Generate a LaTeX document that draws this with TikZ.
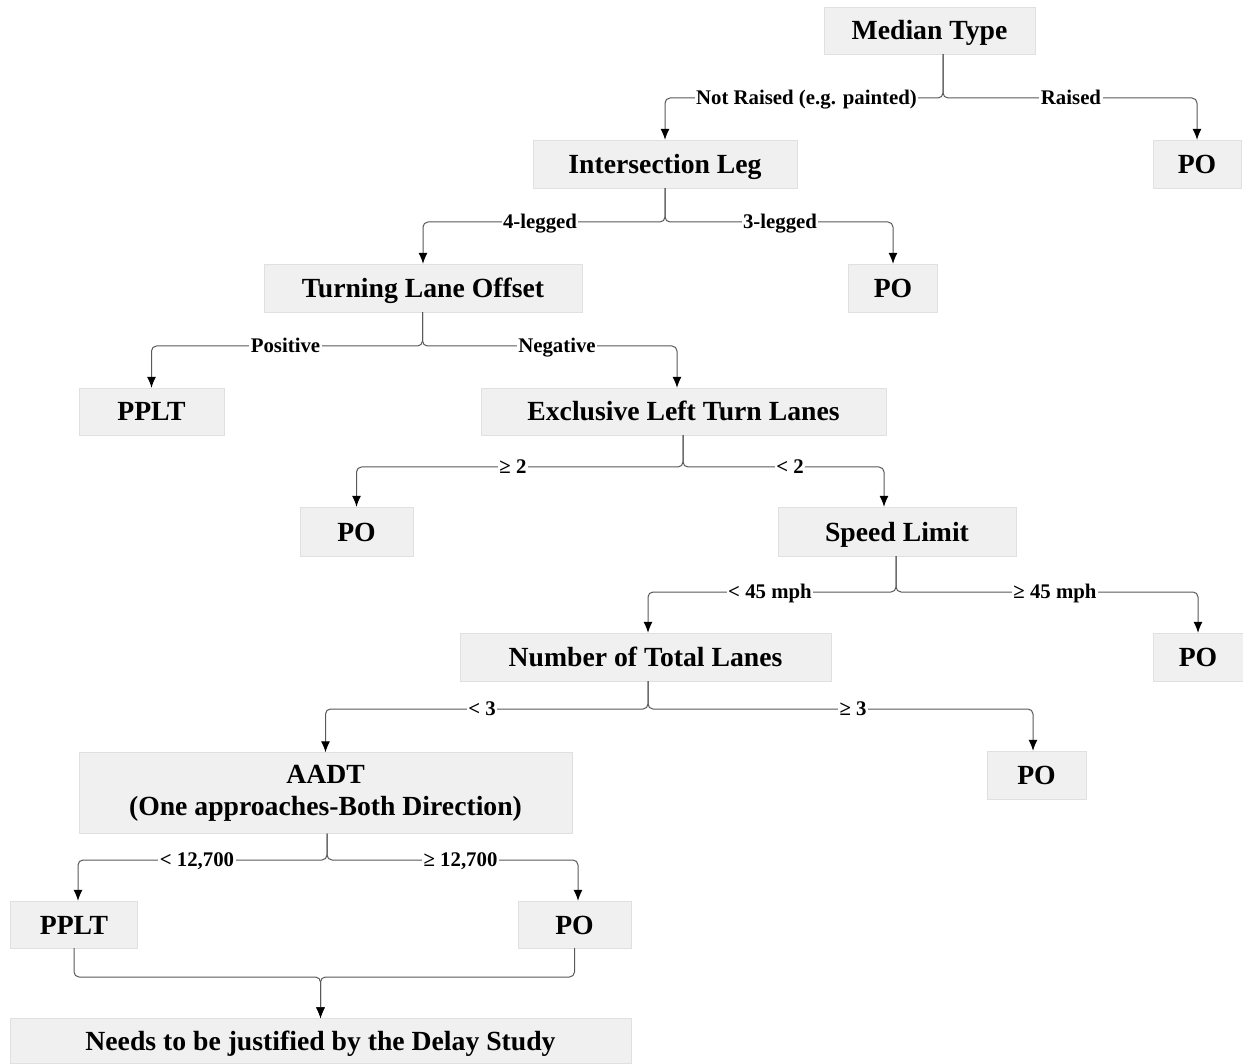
\documentclass[tikz,border=0pt]{standalone}
\usepackage{fontspec}
\setmainfont{Liberation Serif}
\usetikzlibrary{arrows.meta}
\tikzset{
  box/.style={draw=black!12, fill=black!6, inner sep=0pt, align=center,
    text height=22pt, text depth=3pt,
    font=\fontsize{27.7}{32}\selectfont\bfseries},
  lbl/.style={fill=white, inner sep=1.5pt, text height=16.4pt, text depth=2.6pt,
    font=\fontsize{20.8}{24}\selectfont\bfseries},
  link/.style={draw=black!65, line width=1pt, rounded corners=5pt,
    -{Latex[length=11pt,width=9pt,color=black]}},
}

\begin{document}
\begin{tikzpicture}[x=1pt,y=-1pt]
	\useasboundingbox (0,0) rectangle (1243,1064);
	\fill[white] (0,0) rectangle (1243,1064);

	% decision boxes
	\node[box, minimum width=211pt, minimum height=47pt] (mt) at (929.5,30.5) {Median Type};
	\node[box, minimum width=264pt, minimum height=48pt] (il) at (665,164) {Intersection Leg};
	\node[box, minimum width=88pt, minimum height=48pt] (poA) at (1197,164) {PO};
	\node[box, minimum width=318pt, minimum height=48pt] (tlo) at (423,288) {Turning Lane Offset};
	\node[box, minimum width=89pt, minimum height=48pt] (poB) at (893,288) {PO};
	\node[box, minimum width=145pt, minimum height=47pt] (ppltA) at (151.5,411.5) {PPLT};
	\node[box, minimum width=405pt, minimum height=47pt] (eltl) at (683.5,411.5) {Exclusive Left Turn Lanes};
	\node[box, minimum width=113pt, minimum height=49pt] (poC) at (356.5,531.5) {PO};
	\node[box, minimum width=238pt, minimum height=49pt] (sl) at (897,531.5) {Speed Limit};
	\node[box, minimum width=371pt, minimum height=48pt] (ntl) at (645.5,657) {Number of Total Lanes};
	\node[box, minimum width=90pt, minimum height=48pt] (poD) at (1198,657) {PO};
	\node[box, text height={}, text depth={}, minimum width=493pt, minimum height=81pt] (aadt) at (325.5,793) {AADT\\(One approaches-Both Direction)};
	\node[box, minimum width=99pt, minimum height=48pt] (poE) at (1036.5,775) {PO};
	\node[box, minimum width=127pt, minimum height=47pt] (ppltB) at (74,924.5) {PPLT};
	\node[box, minimum width=113pt, minimum height=47pt] (poF) at (574.5,924.5) {PO};
	\node[box, minimum width=621pt, minimum height=45pt] (delay) at (320.5,1041) {Needs to be justified by the Delay Study};

	% branch points
	\coordinate (jmt) at (943,98);
	\coordinate (jil) at (665,222);
	\coordinate (jtlo) at (422.5,346);
	\coordinate (jeltl) at (683,467);
	\coordinate (jsl) at (896,592);
	\coordinate (jntl) at (648,709);
	\coordinate (jaadt) at (327,860);
	\coordinate (jdelay) at (320.5,977);

	\draw[link] (mt.south -| jmt) -- (jmt) -| (il.north);
	\draw[link] (mt.south -| jmt) -- (jmt) -| (poA.north);
	\draw[link] (il.south) -- (jil) -| (tlo.north);
	\draw[link] (il.south) -- (jil) -| (poB.north);
	\draw[link] (tlo.south -| jtlo) -- (jtlo) -| (ppltA.north);
	\draw[link] (tlo.south -| jtlo) -- (jtlo) -| ([xshift=-6.5pt]eltl.north);
	\draw[link] (eltl.south -| jeltl) -- (jeltl) -| (poC.north);
	\draw[link] (eltl.south -| jeltl) -- (jeltl) -| ([xshift=-13pt]sl.north);
	\draw[link] (sl.south -| jsl) -- (jsl) -| ([xshift=2.5pt]ntl.north);
	\draw[link] (sl.south -| jsl) -- (jsl) -| (poD.north);
	\draw[link] (ntl.south -| jntl) -- (jntl) -| (aadt.north);
	\draw[link] (ntl.south -| jntl) -- (jntl) -| ([xshift=-3.5pt]poE.north);
	\draw[link] (aadt.south -| jaadt) -- (jaadt) -| ([xshift=4pt]ppltB.north);
	\draw[link] (aadt.south -| jaadt) -- (jaadt) -| ([xshift=3.5pt]poF.north);
	\draw[link] (ppltB.south) |- (jdelay) -- (delay.north);
	\draw[link] (poF.south) |- (jdelay) -- (delay.north);

	% branch labels
	\node[lbl] (lNR) at (806.5,98) {Not Raised (e.g. painted)};
	\node[lbl] (lR) at (1071,98) {Raised};
	\node[lbl] (l4) at (540,222) {4-legged};
	\node[lbl] (l3) at (780,222) {3-legged};
	\node[lbl] (lPos) at (285.5,346) {Positive};
	\node[lbl] (lNeg) at (557,346) {Negative};
	\node[lbl] (lge2) at (513,467) {≥ 2};
	\node[lbl] (llt2) at (790,467) {< 2};
	\node[lbl] (llt45) at (770,592) {< 45 mph};
	\node[lbl] (lge45) at (1055,592) {≥ 45 mph};
	\node[lbl] (llt3) at (482,709) {< 3};
	\node[lbl] (lge3) at (853,709) {≥ 3};
	\node[lbl] (lltA) at (197,860) {< 12,700};
	\node[lbl] (lgeA) at (460.5,860) {≥ 12,700};
\end{tikzpicture}
\end{document}
